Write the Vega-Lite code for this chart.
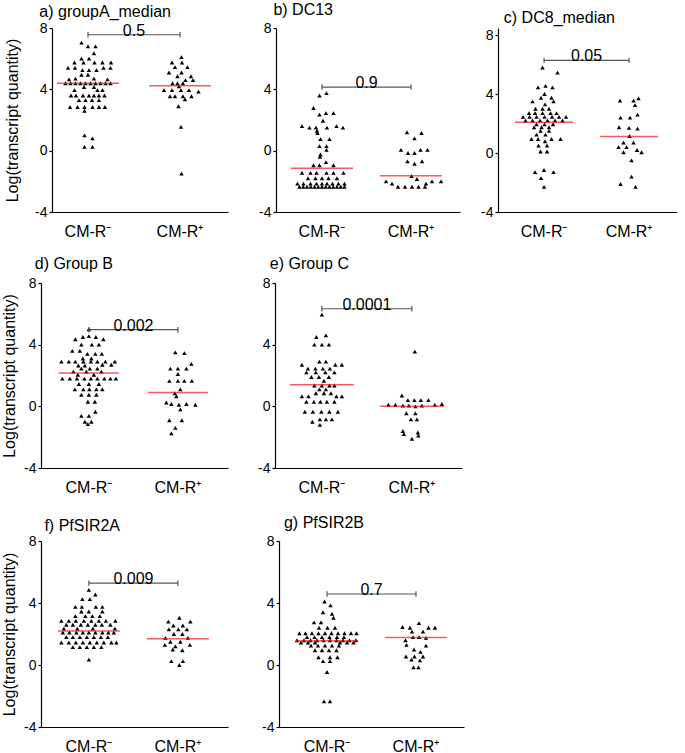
{
"$schema": "https://vega.github.io/schema/vega-lite/v6.json",
"padding": {"left": 0, "top": 2, "right": 0, "bottom": 0},
"config": {
 "font": "Liberation Sans",
 "view": {"stroke": null},
 "title": {"fontSize": 16, "fontWeight": "normal", "font": "Liberation Sans", "color": "black"},
 "axis": {"domainColor": "black", "domainWidth": 1.2, "tickColor": "black", "grid": false, "labelColor": "black", "titleColor": "black", "labelFont": "Liberation Sans", "titleFont": "Liberation Sans"},
 "axisX": {"ticks": false, "labelFontSize": 16, "labelPadding": 11, "labelAngle": 0},
 "axisY": {"tickSize": 3, "tickWidth": 1.2, "labelPadding": 2, "labelFontSize": 14, "titleFontSize": 16, "titleFontWeight": "normal", "labelExpr": "datum.value + ''"}
},
"datasets": {
 "pts": [
{"p":"a","g":"CM-R⁻","v":7.05,"s":-1.3},{"p":"a","g":"CM-R⁻","v":6.8,"s":0},{"p":"a","g":"CM-R⁻","v":6.8,"s":1.5},{"p":"a","g":"CM-R⁻","v":6.35,"s":1.2},{"p":"a","g":"CM-R⁻","v":6.0,"s":-1.3},{"p":"a","g":"CM-R⁻","v":6.0,"s":0.2},{"p":"a","g":"CM-R⁻","v":5.75,"s":-2.7},{"p":"a","g":"CM-R⁻","v":5.75,"s":-0.9},{"p":"a","g":"CM-R⁻","v":5.75,"s":1.3},{"p":"a","g":"CM-R⁻","v":5.75,"s":2.9},{"p":"a","g":"CM-R⁻","v":5.75,"s":4.6},{"p":"a","g":"CM-R⁻","v":5.4,"s":-4},{"p":"a","g":"CM-R⁻","v":5.4,"s":-2.6},{"p":"a","g":"CM-R⁻","v":5.4,"s":3.1},{"p":"a","g":"CM-R⁻","v":5.4,"s":4.5},{"p":"a","g":"CM-R⁻","v":5.25,"s":-1.1},{"p":"a","g":"CM-R⁻","v":5.25,"s":0.2},{"p":"a","g":"CM-R⁻","v":5.25,"s":1.7},{"p":"a","g":"CM-R⁻","v":4.95,"s":-1.3},{"p":"a","g":"CM-R⁻","v":4.95,"s":0},{"p":"a","g":"CM-R⁻","v":4.7,"s":-2.5},{"p":"a","g":"CM-R⁻","v":4.7,"s":1.2},{"p":"a","g":"CM-R⁻","v":4.65,"s":-3.8},{"p":"a","g":"CM-R⁻","v":4.65,"s":3.9},{"p":"a","g":"CM-R⁻","v":4.4,"s":-4.5},{"p":"a","g":"CM-R⁻","v":4.4,"s":-3.5},{"p":"a","g":"CM-R⁻","v":4.4,"s":-2.5},{"p":"a","g":"CM-R⁻","v":4.4,"s":-1.5},{"p":"a","g":"CM-R⁻","v":4.4,"s":-0.5},{"p":"a","g":"CM-R⁻","v":4.4,"s":0.5},{"p":"a","g":"CM-R⁻","v":4.4,"s":1.5},{"p":"a","g":"CM-R⁻","v":4.4,"s":2.5},{"p":"a","g":"CM-R⁻","v":4.4,"s":3.5},{"p":"a","g":"CM-R⁻","v":4.4,"s":4.5},{"p":"a","g":"CM-R⁻","v":4.15,"s":-0.8},{"p":"a","g":"CM-R⁻","v":4.15,"s":1.2},{"p":"a","g":"CM-R⁻","v":3.95,"s":-2.7},{"p":"a","g":"CM-R⁻","v":3.95,"s":1.9},{"p":"a","g":"CM-R⁻","v":3.95,"s":2.9},{"p":"a","g":"CM-R⁻","v":3.6,"s":-3.4},{"p":"a","g":"CM-R⁻","v":3.6,"s":-2.4},{"p":"a","g":"CM-R⁻","v":3.6,"s":-1.0},{"p":"a","g":"CM-R⁻","v":3.6,"s":0.2},{"p":"a","g":"CM-R⁻","v":3.6,"s":1.2},{"p":"a","g":"CM-R⁻","v":3.6,"s":2.2},{"p":"a","g":"CM-R⁻","v":3.6,"s":3.3},{"p":"a","g":"CM-R⁻","v":3.3,"s":-1.8},{"p":"a","g":"CM-R⁻","v":3.3,"s":-0.5},{"p":"a","g":"CM-R⁻","v":3.3,"s":0.8},{"p":"a","g":"CM-R⁻","v":3.3,"s":2.2},{"p":"a","g":"CM-R⁻","v":2.85,"s":-3.6},{"p":"a","g":"CM-R⁻","v":2.85,"s":-2.1},{"p":"a","g":"CM-R⁻","v":2.85,"s":-0.7},{"p":"a","g":"CM-R⁻","v":2.85,"s":0.9},{"p":"a","g":"CM-R⁻","v":2.85,"s":2.2},{"p":"a","g":"CM-R⁻","v":2.85,"s":3.4},{"p":"a","g":"CM-R⁻","v":2.6,"s":-0.7},{"p":"a","g":"CM-R⁻","v":1.0,"s":-0.7},{"p":"a","g":"CM-R⁻","v":0.8,"s":0.9},{"p":"a","g":"CM-R⁻","v":0.25,"s":-0.7},{"p":"a","g":"CM-R⁻","v":0.25,"s":0.9},
{"p":"a","g":"CM-R⁺","v":6.1,"s":0.3},{"p":"a","g":"CM-R⁺","v":5.75,"s":-1.6},{"p":"a","g":"CM-R⁺","v":5.75,"s":0.4},{"p":"a","g":"CM-R⁺","v":5.45,"s":-1.0},{"p":"a","g":"CM-R⁺","v":5.45,"s":1.5},{"p":"a","g":"CM-R⁺","v":5.1,"s":-2.2},{"p":"a","g":"CM-R⁺","v":5.1,"s":0.3},{"p":"a","g":"CM-R⁺","v":4.85,"s":-0.5},{"p":"a","g":"CM-R⁺","v":4.85,"s":2.2},{"p":"a","g":"CM-R⁺","v":4.6,"s":1.1},{"p":"a","g":"CM-R⁺","v":4.6,"s":2.6},{"p":"a","g":"CM-R⁺","v":4.4,"s":-1.5},{"p":"a","g":"CM-R⁺","v":4.4,"s":-0.5},{"p":"a","g":"CM-R⁺","v":4.4,"s":0.6},{"p":"a","g":"CM-R⁺","v":4.2,"s":-0.2},{"p":"a","g":"CM-R⁺","v":3.95,"s":-3.2},{"p":"a","g":"CM-R⁺","v":3.95,"s":-1.6},{"p":"a","g":"CM-R⁺","v":3.95,"s":0.2},{"p":"a","g":"CM-R⁺","v":3.95,"s":1.8},{"p":"a","g":"CM-R⁺","v":3.85,"s":3.7},{"p":"a","g":"CM-R⁺","v":3.55,"s":-2.0},{"p":"a","g":"CM-R⁺","v":3.55,"s":-1.0},{"p":"a","g":"CM-R⁺","v":3.55,"s":0.6},{"p":"a","g":"CM-R⁺","v":3.55,"s":2.3},{"p":"a","g":"CM-R⁺","v":3.35,"s":1.0},{"p":"a","g":"CM-R⁺","v":2.9,"s":-0.3},{"p":"a","g":"CM-R⁺","v":1.55,"s":0.2},{"p":"a","g":"CM-R⁺","v":-1.5,"s":0.3},
{"p":"b","g":"CM-R⁻","v":3.75,"s":0.9},{"p":"b","g":"CM-R⁻","v":3.6,"s":-0.5},{"p":"b","g":"CM-R⁻","v":2.78,"s":-1.7},{"p":"b","g":"CM-R⁻","v":2.45,"s":0.8},{"p":"b","g":"CM-R⁻","v":2.45,"s":2.3},{"p":"b","g":"CM-R⁻","v":2.35,"s":-0.5},{"p":"b","g":"CM-R⁻","v":1.95,"s":0.2},{"p":"b","g":"CM-R⁻","v":1.6,"s":-4},{"p":"b","g":"CM-R⁻","v":1.6,"s":2.9},{"p":"b","g":"CM-R⁻","v":1.5,"s":-2.5},{"p":"b","g":"CM-R⁻","v":1.5,"s":-1.2},{"p":"b","g":"CM-R⁻","v":1.5,"s":1.0},{"p":"b","g":"CM-R⁻","v":1.5,"s":4.2},{"p":"b","g":"CM-R⁻","v":1.3,"s":-1.0},{"p":"b","g":"CM-R⁻","v":1.15,"s":-0.9},{"p":"b","g":"CM-R⁻","v":0.75,"s":-0.3},{"p":"b","g":"CM-R⁻","v":0.75,"s":1.5},{"p":"b","g":"CM-R⁻","v":0.3,"s":-0.5},{"p":"b","g":"CM-R⁻","v":0.3,"s":0.9},{"p":"b","g":"CM-R⁻","v":0.05,"s":0.9},{"p":"b","g":"CM-R⁻","v":-0.25,"s":-0.3},{"p":"b","g":"CM-R⁻","v":-0.4,"s":-0.4},{"p":"b","g":"CM-R⁻","v":-0.75,"s":0.8},{"p":"b","g":"CM-R⁻","v":-0.95,"s":-1.7},{"p":"b","g":"CM-R⁻","v":-0.95,"s":-0.5},{"p":"b","g":"CM-R⁻","v":-0.95,"s":2.3},{"p":"b","g":"CM-R⁻","v":-1.45,"s":-4.0},{"p":"b","g":"CM-R⁻","v":-1.45,"s":-2.3},{"p":"b","g":"CM-R⁻","v":-1.45,"s":-1.1},{"p":"b","g":"CM-R⁻","v":-1.45,"s":0.9},{"p":"b","g":"CM-R⁻","v":-1.45,"s":2.3},{"p":"b","g":"CM-R⁻","v":-1.45,"s":4.3},{"p":"b","g":"CM-R⁻","v":-1.8,"s":-2.8},{"p":"b","g":"CM-R⁻","v":-1.8,"s":-1.3},{"p":"b","g":"CM-R⁻","v":-1.8,"s":0},{"p":"b","g":"CM-R⁻","v":-1.8,"s":1.3},{"p":"b","g":"CM-R⁻","v":-1.8,"s":3.0},{"p":"b","g":"CM-R⁻","v":-2.15,"s":-4.9},{"p":"b","g":"CM-R⁻","v":-2.15,"s":-3.7},{"p":"b","g":"CM-R⁻","v":-2.15,"s":-2.3},{"p":"b","g":"CM-R⁻","v":-2.15,"s":-1.1},{"p":"b","g":"CM-R⁻","v":-2.15,"s":0},{"p":"b","g":"CM-R⁻","v":-2.15,"s":1.0},{"p":"b","g":"CM-R⁻","v":-2.15,"s":2.1},{"p":"b","g":"CM-R⁻","v":-2.15,"s":3.3},{"p":"b","g":"CM-R⁻","v":-2.15,"s":4.5},{"p":"b","g":"CM-R⁻","v":-2.35,"s":-4.5},{"p":"b","g":"CM-R⁻","v":-2.35,"s":-3.75},{"p":"b","g":"CM-R⁻","v":-2.35,"s":-3},{"p":"b","g":"CM-R⁻","v":-2.35,"s":-2.25},{"p":"b","g":"CM-R⁻","v":-2.35,"s":-1.5},{"p":"b","g":"CM-R⁻","v":-2.35,"s":-0.75},{"p":"b","g":"CM-R⁻","v":-2.35,"s":0},{"p":"b","g":"CM-R⁻","v":-2.35,"s":0.75},{"p":"b","g":"CM-R⁻","v":-2.35,"s":1.5},{"p":"b","g":"CM-R⁻","v":-2.35,"s":2.25},{"p":"b","g":"CM-R⁻","v":-2.35,"s":3},{"p":"b","g":"CM-R⁻","v":-2.35,"s":3.75},{"p":"b","g":"CM-R⁻","v":-2.35,"s":4.5},
{"p":"b","g":"CM-R⁺","v":1.2,"s":-0.8},{"p":"b","g":"CM-R⁺","v":1.15,"s":2.1},{"p":"b","g":"CM-R⁺","v":0.8,"s":0.7},{"p":"b","g":"CM-R⁺","v":0.05,"s":-2.0},{"p":"b","g":"CM-R⁺","v":0.05,"s":1.9},{"p":"b","g":"CM-R⁺","v":0.05,"s":3.3},{"p":"b","g":"CM-R⁺","v":-0.15,"s":-0.6},{"p":"b","g":"CM-R⁺","v":-0.15,"s":0.7},{"p":"b","g":"CM-R⁺","v":-0.7,"s":-0.7},{"p":"b","g":"CM-R⁺","v":-0.7,"s":2.2},{"p":"b","g":"CM-R⁺","v":-0.85,"s":0.7},{"p":"b","g":"CM-R⁺","v":-1.65,"s":0.1},{"p":"b","g":"CM-R⁺","v":-1.85,"s":1.2},{"p":"b","g":"CM-R⁺","v":-2.0,"s":-5.0},{"p":"b","g":"CM-R⁺","v":-2.0,"s":4.2},{"p":"b","g":"CM-R⁺","v":-2.0,"s":6.0},{"p":"b","g":"CM-R⁺","v":-2.15,"s":-3.8},{"p":"b","g":"CM-R⁺","v":-2.15,"s":3.0},{"p":"b","g":"CM-R⁺","v":-2.35,"s":-2.6},{"p":"b","g":"CM-R⁺","v":-2.35,"s":-1.2},{"p":"b","g":"CM-R⁺","v":-2.35,"s":0.2},{"p":"b","g":"CM-R⁺","v":-2.35,"s":1.5},{"p":"b","g":"CM-R⁺","v":-2.35,"s":2.8},
{"p":"c","g":"CM-R⁻","v":5.8,"s":-0.3},{"p":"c","g":"CM-R⁻","v":5.45,"s":2.7},{"p":"c","g":"CM-R⁻","v":4.45,"s":-1.2},{"p":"c","g":"CM-R⁻","v":4.55,"s":0.3},{"p":"c","g":"CM-R⁻","v":4.45,"s":1.7},{"p":"c","g":"CM-R⁻","v":4.0,"s":0.1},{"p":"c","g":"CM-R⁻","v":3.75,"s":-0.6},{"p":"c","g":"CM-R⁻","v":3.75,"s":1.5},{"p":"c","g":"CM-R⁻","v":3.5,"s":-2.3},{"p":"c","g":"CM-R⁻","v":3.5,"s":1.9},{"p":"c","g":"CM-R⁻","v":3.3,"s":0.2},{"p":"c","g":"CM-R⁻","v":3.0,"s":-1.7},{"p":"c","g":"CM-R⁻","v":3.0,"s":-0.3},{"p":"c","g":"CM-R⁻","v":3.0,"s":1.0},{"p":"c","g":"CM-R⁻","v":2.7,"s":-3.0},{"p":"c","g":"CM-R⁻","v":2.7,"s":-1.8},{"p":"c","g":"CM-R⁻","v":2.7,"s":-0.3},{"p":"c","g":"CM-R⁻","v":2.7,"s":1.3},{"p":"c","g":"CM-R⁻","v":2.7,"s":2.5},{"p":"c","g":"CM-R⁻","v":2.45,"s":-4.2},{"p":"c","g":"CM-R⁻","v":2.45,"s":-2.9},{"p":"c","g":"CM-R⁻","v":2.45,"s":-1.5},{"p":"c","g":"CM-R⁻","v":2.45,"s":0.1},{"p":"c","g":"CM-R⁻","v":2.45,"s":1.6},{"p":"c","g":"CM-R⁻","v":2.45,"s":3.0},{"p":"c","g":"CM-R⁻","v":2.45,"s":4.4},{"p":"c","g":"CM-R⁻","v":2.2,"s":-3.7},{"p":"c","g":"CM-R⁻","v":2.2,"s":-2.3},{"p":"c","g":"CM-R⁻","v":2.2,"s":-0.8},{"p":"c","g":"CM-R⁻","v":2.2,"s":0.7},{"p":"c","g":"CM-R⁻","v":2.2,"s":2.2},{"p":"c","g":"CM-R⁻","v":2.2,"s":3.7},{"p":"c","g":"CM-R⁻","v":1.95,"s":-1.5},{"p":"c","g":"CM-R⁻","v":1.95,"s":0.1},{"p":"c","g":"CM-R⁻","v":1.95,"s":1.8},{"p":"c","g":"CM-R⁻","v":1.75,"s":-2.0},{"p":"c","g":"CM-R⁻","v":1.75,"s":-0.5},{"p":"c","g":"CM-R⁻","v":1.75,"s":1.0},{"p":"c","g":"CM-R⁻","v":1.5,"s":-0.7},{"p":"c","g":"CM-R⁻","v":1.5,"s":1.0},{"p":"c","g":"CM-R⁻","v":1.25,"s":-1.5},{"p":"c","g":"CM-R⁻","v":1.25,"s":0.3},{"p":"c","g":"CM-R⁻","v":0.95,"s":-2.5},{"p":"c","g":"CM-R⁻","v":0.95,"s":-1.2},{"p":"c","g":"CM-R⁻","v":0.95,"s":1.5},{"p":"c","g":"CM-R⁻","v":0.95,"s":3.3},{"p":"c","g":"CM-R⁻","v":0.8,"s":0.2},{"p":"c","g":"CM-R⁻","v":0.5,"s":-1.1},{"p":"c","g":"CM-R⁻","v":0.5,"s":0.6},{"p":"c","g":"CM-R⁻","v":0.1,"s":-0.7},{"p":"c","g":"CM-R⁻","v":0.1,"s":0.6},{"p":"c","g":"CM-R⁻","v":-1.15,"s":0},{"p":"c","g":"CM-R⁻","v":-1.3,"s":-1.8},{"p":"c","g":"CM-R⁻","v":-1.3,"s":1.9},{"p":"c","g":"CM-R⁻","v":-1.7,"s":-0.6},{"p":"c","g":"CM-R⁻","v":-2.3,"s":0},
{"p":"c","g":"CM-R⁺","v":3.7,"s":1.9},{"p":"c","g":"CM-R⁺","v":3.55,"s":-1.8},{"p":"c","g":"CM-R⁺","v":3.55,"s":0.9},{"p":"c","g":"CM-R⁺","v":3.25,"s":1.2},{"p":"c","g":"CM-R⁺","v":2.6,"s":1.7},{"p":"c","g":"CM-R⁺","v":2.4,"s":-1.7},{"p":"c","g":"CM-R⁺","v":2.4,"s":0.2},{"p":"c","g":"CM-R⁺","v":1.75,"s":-2.0},{"p":"c","g":"CM-R⁺","v":1.7,"s":0.0},{"p":"c","g":"CM-R⁺","v":1.65,"s":1.7},{"p":"c","g":"CM-R⁺","v":1.15,"s":0.1},{"p":"c","g":"CM-R⁺","v":0.7,"s":-1.1},{"p":"c","g":"CM-R⁺","v":0.7,"s":0.9},{"p":"c","g":"CM-R⁺","v":0.4,"s":-2.1},{"p":"c","g":"CM-R⁺","v":0.4,"s":-0.5},{"p":"c","g":"CM-R⁺","v":0.2,"s":1.6},{"p":"c","g":"CM-R⁺","v":0.05,"s":-1.1},{"p":"c","g":"CM-R⁺","v":0.05,"s":2.5},{"p":"c","g":"CM-R⁺","v":-0.5,"s":0.5},{"p":"c","g":"CM-R⁺","v":-1.6,"s":0.5},{"p":"c","g":"CM-R⁺","v":-2.1,"s":-1.7},{"p":"c","g":"CM-R⁺","v":-2.3,"s":1.3},
{"p":"d","g":"CM-R⁻","v":5.0,"s":0},{"p":"d","g":"CM-R⁻","v":4.5,"s":-1.2},{"p":"d","g":"CM-R⁻","v":4.55,"s":0},{"p":"d","g":"CM-R⁻","v":4.5,"s":1.4},{"p":"d","g":"CM-R⁻","v":4.35,"s":-2.7},{"p":"d","g":"CM-R⁻","v":4.35,"s":2.9},{"p":"d","g":"CM-R⁻","v":4.0,"s":-1.5},{"p":"d","g":"CM-R⁻","v":4.0,"s":0.6},{"p":"d","g":"CM-R⁻","v":4.0,"s":2.0},{"p":"d","g":"CM-R⁻","v":3.6,"s":-3.3},{"p":"d","g":"CM-R⁻","v":3.6,"s":-1.8},{"p":"d","g":"CM-R⁻","v":3.4,"s":-0.3},{"p":"d","g":"CM-R⁻","v":3.4,"s":1.3},{"p":"d","g":"CM-R⁻","v":3.4,"s":2.6},{"p":"d","g":"CM-R⁻","v":3.1,"s":-1.2},{"p":"d","g":"CM-R⁻","v":3.1,"s":0.5},{"p":"d","g":"CM-R⁻","v":2.9,"s":-5.5},{"p":"d","g":"CM-R⁻","v":2.9,"s":-4.0},{"p":"d","g":"CM-R⁻","v":2.9,"s":-2.7},{"p":"d","g":"CM-R⁻","v":2.9,"s":-1.1},{"p":"d","g":"CM-R⁻","v":2.9,"s":0.4},{"p":"d","g":"CM-R⁻","v":2.9,"s":1.7},{"p":"d","g":"CM-R⁻","v":2.9,"s":3.3},{"p":"d","g":"CM-R⁻","v":2.9,"s":5.2},{"p":"d","g":"CM-R⁻","v":2.65,"s":-2.1},{"p":"d","g":"CM-R⁻","v":2.65,"s":-0.8},{"p":"d","g":"CM-R⁻","v":2.7,"s":2.7},{"p":"d","g":"CM-R⁻","v":2.7,"s":4.5},{"p":"d","g":"CM-R⁻","v":2.45,"s":-1.5},{"p":"d","g":"CM-R⁻","v":2.45,"s":0.2},{"p":"d","g":"CM-R⁻","v":2.45,"s":1.7},{"p":"d","g":"CM-R⁻","v":2.25,"s":-3.1},{"p":"d","g":"CM-R⁻","v":2.25,"s":-0.5},{"p":"d","g":"CM-R⁻","v":2.25,"s":2.5},{"p":"d","g":"CM-R⁻","v":2.05,"s":-2.2},{"p":"d","g":"CM-R⁻","v":2.05,"s":1.0},{"p":"d","g":"CM-R⁻","v":1.8,"s":-5.3},{"p":"d","g":"CM-R⁻","v":1.8,"s":-3.8},{"p":"d","g":"CM-R⁻","v":1.8,"s":-2.4},{"p":"d","g":"CM-R⁻","v":1.8,"s":-0.9},{"p":"d","g":"CM-R⁻","v":1.8,"s":0.4},{"p":"d","g":"CM-R⁻","v":1.8,"s":1.7},{"p":"d","g":"CM-R⁻","v":1.8,"s":3.1},{"p":"d","g":"CM-R⁻","v":1.8,"s":4.3},{"p":"d","g":"CM-R⁻","v":1.8,"s":5.4},{"p":"d","g":"CM-R⁻","v":1.45,"s":-2.0},{"p":"d","g":"CM-R⁻","v":1.45,"s":0.0},{"p":"d","g":"CM-R⁻","v":1.45,"s":2.0},{"p":"d","g":"CM-R⁻","v":1.1,"s":-2.8},{"p":"d","g":"CM-R⁻","v":1.1,"s":-1.1},{"p":"d","g":"CM-R⁻","v":1.1,"s":0.1},{"p":"d","g":"CM-R⁻","v":1.1,"s":1.5},{"p":"d","g":"CM-R⁻","v":1.1,"s":2.7},{"p":"d","g":"CM-R⁻","v":0.75,"s":-1.5},{"p":"d","g":"CM-R⁻","v":0.75,"s":0.0},{"p":"d","g":"CM-R⁻","v":0.75,"s":1.5},{"p":"d","g":"CM-R⁻","v":0.3,"s":-0.2},{"p":"d","g":"CM-R⁻","v":0.3,"s":1.2},{"p":"d","g":"CM-R⁻","v":-0.35,"s":1.3},{"p":"d","g":"CM-R⁻","v":-0.62,"s":-1.5},{"p":"d","g":"CM-R⁻","v":-0.62,"s":0},{"p":"d","g":"CM-R⁻","v":-1.0,"s":-0.8},{"p":"d","g":"CM-R⁻","v":-1.0,"s":0.5},{"p":"d","g":"CM-R⁻","v":-1.15,"s":-0.2},
{"p":"d","g":"CM-R⁺","v":3.5,"s":-0.5},{"p":"d","g":"CM-R⁺","v":3.45,"s":1.3},{"p":"d","g":"CM-R⁺","v":2.75,"s":2.7},{"p":"d","g":"CM-R⁺","v":2.45,"s":-1.5},{"p":"d","g":"CM-R⁺","v":2.45,"s":0},{"p":"d","g":"CM-R⁺","v":2.45,"s":1.7},{"p":"d","g":"CM-R⁺","v":2.1,"s":0},{"p":"d","g":"CM-R⁺","v":1.65,"s":-1.7},{"p":"d","g":"CM-R⁺","v":1.65,"s":0},{"p":"d","g":"CM-R⁺","v":1.65,"s":1.3},{"p":"d","g":"CM-R⁺","v":1.65,"s":2.8},{"p":"d","g":"CM-R⁺","v":1.1,"s":0.5},{"p":"d","g":"CM-R⁺","v":0.85,"s":-0.6},{"p":"d","g":"CM-R⁺","v":0.65,"s":-0.3},{"p":"d","g":"CM-R⁺","v":0.25,"s":-2.3},{"p":"d","g":"CM-R⁺","v":0.15,"s":-1.3},{"p":"d","g":"CM-R⁺","v":0.1,"s":0.2},{"p":"d","g":"CM-R⁺","v":0.15,"s":1.7},{"p":"d","g":"CM-R⁺","v":0.1,"s":3.5},{"p":"d","g":"CM-R⁺","v":-0.2,"s":0.5},{"p":"d","g":"CM-R⁺","v":-0.9,"s":-1.7},{"p":"d","g":"CM-R⁺","v":-0.9,"s":0.8},{"p":"d","g":"CM-R⁺","v":-1.4,"s":-0.5},{"p":"d","g":"CM-R⁺","v":-1.75,"s":-1.3},
{"p":"e","g":"CM-R⁻","v":5.95,"s":0},{"p":"e","g":"CM-R⁻","v":4.6,"s":0.8},{"p":"e","g":"CM-R⁻","v":4.5,"s":-1.1},{"p":"e","g":"CM-R⁻","v":4.0,"s":-1.5},{"p":"e","g":"CM-R⁻","v":4.0,"s":0},{"p":"e","g":"CM-R⁻","v":4.0,"s":1.4},{"p":"e","g":"CM-R⁻","v":2.9,"s":-0.5},{"p":"e","g":"CM-R⁻","v":2.9,"s":0.8},{"p":"e","g":"CM-R⁻","v":2.7,"s":-4.0},{"p":"e","g":"CM-R⁻","v":2.7,"s":2.7},{"p":"e","g":"CM-R⁻","v":2.7,"s":4.0},{"p":"e","g":"CM-R⁻","v":2.45,"s":-2.8},{"p":"e","g":"CM-R⁻","v":2.45,"s":-1.3},{"p":"e","g":"CM-R⁻","v":2.45,"s":0.2},{"p":"e","g":"CM-R⁻","v":2.45,"s":1.6},{"p":"e","g":"CM-R⁻","v":2.2,"s":-3.1},{"p":"e","g":"CM-R⁻","v":2.2,"s":-1.2},{"p":"e","g":"CM-R⁻","v":2.2,"s":0.7},{"p":"e","g":"CM-R⁻","v":2.2,"s":2.5},{"p":"e","g":"CM-R⁻","v":1.9,"s":-2.1},{"p":"e","g":"CM-R⁻","v":1.9,"s":-0.6},{"p":"e","g":"CM-R⁻","v":1.9,"s":1.4},{"p":"e","g":"CM-R⁻","v":1.65,"s":0.4},{"p":"e","g":"CM-R⁻","v":1.35,"s":-1.5},{"p":"e","g":"CM-R⁻","v":1.35,"s":0},{"p":"e","g":"CM-R⁻","v":1.35,"s":1.5},{"p":"e","g":"CM-R⁻","v":1.35,"s":2.5},{"p":"e","g":"CM-R⁻","v":1.1,"s":-0.5},{"p":"e","g":"CM-R⁻","v":1.1,"s":0.8},{"p":"e","g":"CM-R⁻","v":0.85,"s":-1.2},{"p":"e","g":"CM-R⁻","v":0.85,"s":0.4},{"p":"e","g":"CM-R⁻","v":0.85,"s":1.8},{"p":"e","g":"CM-R⁻","v":0.65,"s":-4.0},{"p":"e","g":"CM-R⁻","v":0.65,"s":-2.7},{"p":"e","g":"CM-R⁻","v":0.65,"s":2.9},{"p":"e","g":"CM-R⁻","v":0.65,"s":4.0},{"p":"e","g":"CM-R⁻","v":0.3,"s":-3.1},{"p":"e","g":"CM-R⁻","v":0.3,"s":-1.6},{"p":"e","g":"CM-R⁻","v":0.3,"s":-0.3},{"p":"e","g":"CM-R⁻","v":0.3,"s":1.0},{"p":"e","g":"CM-R⁻","v":0.3,"s":2.5},{"p":"e","g":"CM-R⁻","v":-0.35,"s":-3.4},{"p":"e","g":"CM-R⁻","v":-0.35,"s":-1.8},{"p":"e","g":"CM-R⁻","v":-0.35,"s":-0.1},{"p":"e","g":"CM-R⁻","v":-0.35,"s":1.5},{"p":"e","g":"CM-R⁻","v":-0.35,"s":3.2},{"p":"e","g":"CM-R⁻","v":-0.85,"s":-0.4},{"p":"e","g":"CM-R⁻","v":-0.85,"s":0.8},{"p":"e","g":"CM-R⁻","v":-0.85,"s":2.0},{"p":"e","g":"CM-R⁻","v":-1.0,"s":-1.9},{"p":"e","g":"CM-R⁻","v":-1.2,"s":-0.4},
{"p":"e","g":"CM-R⁺","v":3.55,"s":0.6},{"p":"e","g":"CM-R⁺","v":0.7,"s":-2.0},{"p":"e","g":"CM-R⁺","v":0.4,"s":-0.8},{"p":"e","g":"CM-R⁺","v":0.4,"s":0.5},{"p":"e","g":"CM-R⁺","v":0.4,"s":1.8},{"p":"e","g":"CM-R⁺","v":0.4,"s":3.3},{"p":"e","g":"CM-R⁺","v":0.1,"s":-4.7},{"p":"e","g":"CM-R⁺","v":0.1,"s":-3.3},{"p":"e","g":"CM-R⁺","v":0.05,"s":-1.8},{"p":"e","g":"CM-R⁺","v":0.05,"s":-0.6},{"p":"e","g":"CM-R⁺","v":0.0,"s":0.7},{"p":"e","g":"CM-R⁺","v":0.05,"s":2.0},{"p":"e","g":"CM-R⁺","v":0.1,"s":4.6},{"p":"e","g":"CM-R⁺","v":0.15,"s":6.0},{"p":"e","g":"CM-R⁺","v":-0.45,"s":-1.1},{"p":"e","g":"CM-R⁺","v":-0.45,"s":0.7},{"p":"e","g":"CM-R⁺","v":-0.85,"s":-0.2},{"p":"e","g":"CM-R⁺","v":-0.85,"s":1.0},{"p":"e","g":"CM-R⁺","v":-1.6,"s":-1.8},{"p":"e","g":"CM-R⁺","v":-1.8,"s":-1.6},{"p":"e","g":"CM-R⁺","v":-1.7,"s":1.2},{"p":"e","g":"CM-R⁺","v":-1.9,"s":1.3},{"p":"e","g":"CM-R⁺","v":-2.1,"s":0},
{"p":"f","g":"CM-R⁻","v":4.85,"s":0},{"p":"f","g":"CM-R⁻","v":4.55,"s":1.3},{"p":"f","g":"CM-R⁻","v":4.25,"s":-1.3},{"p":"f","g":"CM-R⁻","v":4.25,"s":0.2},{"p":"f","g":"CM-R⁻","v":3.75,"s":-2.7},{"p":"f","g":"CM-R⁻","v":3.75,"s":-1.4},{"p":"f","g":"CM-R⁻","v":3.75,"s":1.4},{"p":"f","g":"CM-R⁻","v":3.75,"s":2.7},{"p":"f","g":"CM-R⁻","v":3.45,"s":-1.5},{"p":"f","g":"CM-R⁻","v":3.45,"s":0},{"p":"f","g":"CM-R⁻","v":3.45,"s":2.7},{"p":"f","g":"CM-R⁻","v":3.15,"s":-2.7},{"p":"f","g":"CM-R⁻","v":3.15,"s":-0.7},{"p":"f","g":"CM-R⁻","v":3.15,"s":0.7},{"p":"f","g":"CM-R⁻","v":3.15,"s":2.2},{"p":"f","g":"CM-R⁻","v":2.85,"s":-5.5},{"p":"f","g":"CM-R⁻","v":2.85,"s":-4.0},{"p":"f","g":"CM-R⁻","v":2.85,"s":-2.6},{"p":"f","g":"CM-R⁻","v":2.85,"s":-1.0},{"p":"f","g":"CM-R⁻","v":2.85,"s":0.5},{"p":"f","g":"CM-R⁻","v":2.85,"s":2.0},{"p":"f","g":"CM-R⁻","v":2.85,"s":3.4},{"p":"f","g":"CM-R⁻","v":2.85,"s":5.3},{"p":"f","g":"CM-R⁻","v":2.6,"s":-4.5},{"p":"f","g":"CM-R⁻","v":2.6,"s":-3.2},{"p":"f","g":"CM-R⁻","v":2.6,"s":-1.6},{"p":"f","g":"CM-R⁻","v":2.6,"s":-0.2},{"p":"f","g":"CM-R⁻","v":2.6,"s":1.3},{"p":"f","g":"CM-R⁻","v":2.6,"s":2.6},{"p":"f","g":"CM-R⁻","v":2.6,"s":4.3},{"p":"f","g":"CM-R⁻","v":2.35,"s":-5.0},{"p":"f","g":"CM-R⁻","v":2.35,"s":-2.3},{"p":"f","g":"CM-R⁻","v":2.35,"s":0.8},{"p":"f","g":"CM-R⁻","v":2.35,"s":5.2},{"p":"f","g":"CM-R⁻","v":2.1,"s":-5.2},{"p":"f","g":"CM-R⁻","v":2.1,"s":-3.9},{"p":"f","g":"CM-R⁻","v":2.1,"s":-2.5},{"p":"f","g":"CM-R⁻","v":2.1,"s":-1.2},{"p":"f","g":"CM-R⁻","v":2.1,"s":0.0},{"p":"f","g":"CM-R⁻","v":2.1,"s":1.3},{"p":"f","g":"CM-R⁻","v":2.1,"s":2.7},{"p":"f","g":"CM-R⁻","v":2.1,"s":3.9},{"p":"f","g":"CM-R⁻","v":2.1,"s":5.0},{"p":"f","g":"CM-R⁻","v":1.8,"s":-4.5},{"p":"f","g":"CM-R⁻","v":1.8,"s":-3.2},{"p":"f","g":"CM-R⁻","v":1.8,"s":-1.8},{"p":"f","g":"CM-R⁻","v":1.8,"s":-0.4},{"p":"f","g":"CM-R⁻","v":1.8,"s":1.0},{"p":"f","g":"CM-R⁻","v":1.8,"s":2.4},{"p":"f","g":"CM-R⁻","v":1.8,"s":3.8},{"p":"f","g":"CM-R⁻","v":1.45,"s":-5.5},{"p":"f","g":"CM-R⁻","v":1.45,"s":-4.0},{"p":"f","g":"CM-R⁻","v":1.45,"s":-2.6},{"p":"f","g":"CM-R⁻","v":1.45,"s":-1.2},{"p":"f","g":"CM-R⁻","v":1.45,"s":0.2},{"p":"f","g":"CM-R⁻","v":1.45,"s":1.6},{"p":"f","g":"CM-R⁻","v":1.45,"s":3.0},{"p":"f","g":"CM-R⁻","v":1.45,"s":4.5},{"p":"f","g":"CM-R⁻","v":1.45,"s":5.5},{"p":"f","g":"CM-R⁻","v":1.15,"s":-3.2},{"p":"f","g":"CM-R⁻","v":1.15,"s":-1.8},{"p":"f","g":"CM-R⁻","v":1.15,"s":-0.4},{"p":"f","g":"CM-R⁻","v":1.15,"s":1.0},{"p":"f","g":"CM-R⁻","v":1.15,"s":2.5},{"p":"f","g":"CM-R⁻","v":0.35,"s":0},
{"p":"f","g":"CM-R⁺","v":3.05,"s":0.3},{"p":"f","g":"CM-R⁺","v":2.8,"s":-1.9},{"p":"f","g":"CM-R⁺","v":2.8,"s":2.5},{"p":"f","g":"CM-R⁺","v":2.55,"s":-0.9},{"p":"f","g":"CM-R⁺","v":2.55,"s":1.0},{"p":"f","g":"CM-R⁺","v":2.3,"s":-1.8},{"p":"f","g":"CM-R⁺","v":2.3,"s":0.1},{"p":"f","g":"CM-R⁺","v":2.3,"s":1.8},{"p":"f","g":"CM-R⁺","v":2.0,"s":-0.8},{"p":"f","g":"CM-R⁺","v":2.0,"s":0.9},{"p":"f","g":"CM-R⁺","v":1.75,"s":-2.5},{"p":"f","g":"CM-R⁺","v":1.75,"s":2.0},{"p":"f","g":"CM-R⁺","v":1.5,"s":-1.5},{"p":"f","g":"CM-R⁺","v":1.5,"s":0.5},{"p":"f","g":"CM-R⁺","v":1.3,"s":-2.6},{"p":"f","g":"CM-R⁺","v":1.3,"s":2.4},{"p":"f","g":"CM-R⁺","v":1.2,"s":-0.5},{"p":"f","g":"CM-R⁺","v":1.0,"s":-1.0},{"p":"f","g":"CM-R⁺","v":0.95,"s":0.9},{"p":"f","g":"CM-R⁺","v":0.25,"s":-1.3},{"p":"f","g":"CM-R⁺","v":0.25,"s":1.0},{"p":"f","g":"CM-R⁺","v":0.0,"s":0.3},
{"p":"g","g":"CM-R⁻","v":4.1,"s":-0.5},{"p":"g","g":"CM-R⁻","v":3.85,"s":0.7},{"p":"g","g":"CM-R⁻","v":3.4,"s":-0.8},{"p":"g","g":"CM-R⁻","v":3.3,"s":1.0},{"p":"g","g":"CM-R⁻","v":3.05,"s":1.3},{"p":"g","g":"CM-R⁻","v":2.75,"s":-2.6},{"p":"g","g":"CM-R⁻","v":2.75,"s":-1.2},{"p":"g","g":"CM-R⁻","v":2.4,"s":-1.6},{"p":"g","g":"CM-R⁻","v":2.4,"s":0.1},{"p":"g","g":"CM-R⁻","v":2.4,"s":1.6},{"p":"g","g":"CM-R⁻","v":2.05,"s":-5.5},{"p":"g","g":"CM-R⁻","v":2.05,"s":-4.3},{"p":"g","g":"CM-R⁻","v":2.05,"s":-3.0},{"p":"g","g":"CM-R⁻","v":2.05,"s":-1.7},{"p":"g","g":"CM-R⁻","v":2.05,"s":-0.4},{"p":"g","g":"CM-R⁻","v":2.05,"s":0.9},{"p":"g","g":"CM-R⁻","v":2.05,"s":2.2},{"p":"g","g":"CM-R⁻","v":2.05,"s":3.5},{"p":"g","g":"CM-R⁻","v":2.05,"s":4.8},{"p":"g","g":"CM-R⁻","v":2.05,"s":5.9},{"p":"g","g":"CM-R⁻","v":1.8,"s":-4.0},{"p":"g","g":"CM-R⁻","v":1.8,"s":-2.5},{"p":"g","g":"CM-R⁻","v":1.8,"s":-1.0},{"p":"g","g":"CM-R⁻","v":1.8,"s":0.5},{"p":"g","g":"CM-R⁻","v":1.8,"s":2.0},{"p":"g","g":"CM-R⁻","v":1.8,"s":3.4},{"p":"g","g":"CM-R⁻","v":1.6,"s":-6.0},{"p":"g","g":"CM-R⁻","v":1.6,"s":-4.6},{"p":"g","g":"CM-R⁻","v":1.6,"s":-3.3},{"p":"g","g":"CM-R⁻","v":1.6,"s":-2.0},{"p":"g","g":"CM-R⁻","v":1.6,"s":-0.7},{"p":"g","g":"CM-R⁻","v":1.6,"s":0.6},{"p":"g","g":"CM-R⁻","v":1.6,"s":1.9},{"p":"g","g":"CM-R⁻","v":1.6,"s":3.2},{"p":"g","g":"CM-R⁻","v":1.6,"s":4.5},{"p":"g","g":"CM-R⁻","v":1.6,"s":5.8},{"p":"g","g":"CM-R⁻","v":1.45,"s":-5.2},{"p":"g","g":"CM-R⁻","v":1.45,"s":-3.8},{"p":"g","g":"CM-R⁻","v":1.45,"s":-2.4},{"p":"g","g":"CM-R⁻","v":1.45,"s":2.6},{"p":"g","g":"CM-R⁻","v":1.45,"s":4.0},{"p":"g","g":"CM-R⁻","v":1.45,"s":5.3},{"p":"g","g":"CM-R⁻","v":1.25,"s":-3.2},{"p":"g","g":"CM-R⁻","v":1.25,"s":-1.8},{"p":"g","g":"CM-R⁻","v":1.25,"s":-0.4},{"p":"g","g":"CM-R⁻","v":1.25,"s":1.0},{"p":"g","g":"CM-R⁻","v":1.25,"s":2.4},{"p":"g","g":"CM-R⁻","v":0.95,"s":-2.4},{"p":"g","g":"CM-R⁻","v":0.95,"s":-1.0},{"p":"g","g":"CM-R⁻","v":0.95,"s":0.4},{"p":"g","g":"CM-R⁻","v":0.95,"s":1.9},{"p":"g","g":"CM-R⁻","v":0.5,"s":-1.7},{"p":"g","g":"CM-R⁻","v":0.5,"s":0.6},{"p":"g","g":"CM-R⁻","v":0.5,"s":2.1},{"p":"g","g":"CM-R⁻","v":0.25,"s":-0.8},{"p":"g","g":"CM-R⁻","v":0.25,"s":0.6},{"p":"g","g":"CM-R⁻","v":-0.45,"s":0},{"p":"g","g":"CM-R⁻","v":-2.35,"s":-0.6},{"p":"g","g":"CM-R⁻","v":-2.35,"s":0.6},
{"p":"g","g":"CM-R⁺","v":2.7,"s":0.6},{"p":"g","g":"CM-R⁺","v":2.45,"s":-2.7},{"p":"g","g":"CM-R⁺","v":2.4,"s":-1.2},{"p":"g","g":"CM-R⁺","v":2.4,"s":2.5},{"p":"g","g":"CM-R⁺","v":2.4,"s":3.8},{"p":"g","g":"CM-R⁺","v":2.15,"s":-0.8},{"p":"g","g":"CM-R⁺","v":2.15,"s":1.4},{"p":"g","g":"CM-R⁺","v":1.8,"s":-0.6},{"p":"g","g":"CM-R⁺","v":1.8,"s":0.6},{"p":"g","g":"CM-R⁺","v":1.6,"s":-2.1},{"p":"g","g":"CM-R⁺","v":1.75,"s":2.0},{"p":"g","g":"CM-R⁺","v":1.3,"s":-1.9},{"p":"g","g":"CM-R⁺","v":1.25,"s":2.0},{"p":"g","g":"CM-R⁺","v":1.0,"s":-0.4},{"p":"g","g":"CM-R⁺","v":0.85,"s":0.9},{"p":"g","g":"CM-R⁺","v":0.55,"s":-2.0},{"p":"g","g":"CM-R⁺","v":0.55,"s":-0.3},{"p":"g","g":"CM-R⁺","v":0.55,"s":1.4},{"p":"g","g":"CM-R⁺","v":0.35,"s":-0.9},{"p":"g","g":"CM-R⁺","v":0.3,"s":0.8},{"p":"g","g":"CM-R⁺","v":-0.15,"s":-0.5},{"p":"g","g":"CM-R⁺","v":-0.15,"s":0.5}
 ],
 "med": [
{"p":"a","g":"CM-R⁻","v":4.39},{"p":"a","g":"CM-R⁺","v":4.24},{"p":"b","g":"CM-R⁻","v":-1.14},{"p":"b","g":"CM-R⁺","v":-1.64},{"p":"c","g":"CM-R⁻","v":2.08},{"p":"c","g":"CM-R⁺","v":1.12},{"p":"d","g":"CM-R⁻","v":2.16},{"p":"d","g":"CM-R⁺","v":0.9},{"p":"e","g":"CM-R⁻","v":1.4},{"p":"e","g":"CM-R⁺","v":0.0},{"p":"f","g":"CM-R⁻","v":2.2},{"p":"f","g":"CM-R⁺","v":1.7},{"p":"g","g":"CM-R⁻","v":1.56},{"p":"g","g":"CM-R⁺","v":1.77}
 ],
 "brk": [
{"p":"a","g":"CM-R⁻","v":7.56},{"p":"a","g":"CM-R⁺","v":7.56},{"p":"b","g":"CM-R⁻","v":4.15},{"p":"b","g":"CM-R⁺","v":4.15},{"p":"c","g":"CM-R⁻","v":6.28},{"p":"c","g":"CM-R⁺","v":6.28},{"p":"d","g":"CM-R⁻","v":4.97},{"p":"d","g":"CM-R⁺","v":4.97},{"p":"e","g":"CM-R⁻","v":6.33},{"p":"e","g":"CM-R⁺","v":6.33},{"p":"f","g":"CM-R⁻","v":5.28},{"p":"f","g":"CM-R⁺","v":5.28},{"p":"g","g":"CM-R⁻","v":4.58},{"p":"g","g":"CM-R⁺","v":4.58}
 ],
 "lbl": [
{"p":"a","g":"CM-R⁻","v":7.56,"t":"0.5"},{"p":"b","g":"CM-R⁻","v":4.15,"t":"0.9"},{"p":"c","g":"CM-R⁻","v":6.28,"t":"0.05"},{"p":"d","g":"CM-R⁻","v":4.97,"t":"0.002"},{"p":"e","g":"CM-R⁻","v":6.33,"t":"0.0001"},{"p":"f","g":"CM-R⁻","v":5.28,"t":"0.009"},{"p":"g","g":"CM-R⁻","v":4.58,"t":"0.7"}
 ]
},
"vconcat": [
 {"vconcat": [
  {"hconcat": [
   {"width": 1, "height": 1, "data": {"values": []}, "mark": "point"},
   {"hconcat": [
   {"width": 176, "height": 184,
    "title": {"text": "a) groupA_median", "anchor": "end", "frame": "group", "dx": -57, "offset": 1},
    "encoding": {
     "x": {"field": "g", "type": "nominal", "sort": ["CM-R⁻","CM-R⁺"], "title": null, "scale": {"domain": ["CM-R⁻","CM-R⁺"], "paddingInner": 0.239, "paddingOuter": 0.076, "align": 0.07}},
     "y": {"field": "v", "type": "quantitative", "scale": {"domain": [-4, 8], "nice": false, "zero": false}, "axis": {"values": [-4, 0, 4, 8], "title": "Log(transcript quantity)", "titlePadding": 14}}},
    "layer": [
     {"data": {"name": "pts"}, "transform": [{"filter": "datum.p == 'a'"}], "mark": {"type": "point", "shape": "triangle-up", "filled": true, "size": 20, "color": "black", "opacity": 1}, "encoding": {"xOffset": {"field": "s", "type": "quantitative", "scale": {"domain": [-7, 7], "range": [0, 70]}}}},
     {"data": {"name": "med"}, "transform": [{"filter": "datum.p == 'a'"}], "mark": {"type": "tick", "color": "#e8191c", "size": 62, "thickness": 1.5}},
     {"data": {"name": "brk"}, "transform": [{"filter": "datum.p == 'a'"}], "mark": {"type": "line", "color": "#555555", "strokeWidth": 1.2}},
     {"data": {"name": "brk"}, "transform": [{"filter": "datum.p == 'a'"}], "mark": {"type": "point", "shape": "M0,-1L0,1", "size": 30, "filled": false, "color": "#555555", "strokeWidth": 1.2, "opacity": 1}},
     {"data": {"name": "lbl"}, "transform": [{"filter": "datum.p == 'a'"}], "mark": {"type": "text", "fontSize": 16, "baseline": "alphabetic", "dy": 1, "color": "black"}, "encoding": {"x": {"field": "g", "type": "nominal", "sort": ["CM-R⁻","CM-R⁺"], "bandPosition": 1.157, "title": null}, "text": {"field": "t"}}}
    ]},
   {"hconcat": [
    {"width": 184, "height": 184,
     "title": {"text": "b) DC13", "anchor": "end", "frame": "group", "dx": -127, "dy": -2, "offset": 1},
     "encoding": {
      "x": {"field": "g", "type": "nominal", "sort": ["CM-R⁻","CM-R⁺"], "title": null, "scale": {"domain": ["CM-R⁻","CM-R⁺"], "paddingInner": 0.213, "paddingOuter": 0.14, "align": 0.44}},
      "y": {"field": "v", "type": "quantitative", "scale": {"domain": [-4, 8], "nice": false, "zero": false}, "axis": {"values": [-4, 0, 4, 8], "title": null}}},
     "layer": [
      {"data": {"name": "pts"}, "transform": [{"filter": "datum.p == 'b'"}], "mark": {"type": "point", "shape": "triangle-up", "filled": true, "size": 20, "color": "black", "opacity": 1}, "encoding": {"xOffset": {"field": "s", "type": "quantitative", "scale": {"domain": [-7, 7], "range": [0, 70]}}}},
      {"data": {"name": "med"}, "transform": [{"filter": "datum.p == 'b'"}], "mark": {"type": "tick", "color": "#e8191c", "size": 62, "thickness": 1.5}},
      {"data": {"name": "brk"}, "transform": [{"filter": "datum.p == 'b'"}], "mark": {"type": "line", "color": "#555555", "strokeWidth": 1.2}},
      {"data": {"name": "brk"}, "transform": [{"filter": "datum.p == 'b'"}], "mark": {"type": "point", "shape": "M0,-1L0,1", "size": 30, "filled": false, "color": "#555555", "strokeWidth": 1.2, "opacity": 1}},
      {"data": {"name": "lbl"}, "transform": [{"filter": "datum.p == 'b'"}], "mark": {"type": "text", "fontSize": 16, "baseline": "alphabetic", "dy": 1, "color": "black"}, "encoding": {"x": {"field": "g", "type": "nominal", "sort": ["CM-R⁻","CM-R⁺"], "bandPosition": 1.136, "title": null}, "text": {"field": "t"}}}
     ]},
    {"width": 179, "height": 184,
     "title": {"text": "c) DC8_median", "anchor": "end", "frame": "group", "dx": -62, "dy": -1, "offset": 1},
     "encoding": {
      "x": {"field": "g", "type": "nominal", "sort": ["CM-R⁻","CM-R⁺"], "title": null, "scale": {"domain": ["CM-R⁻","CM-R⁺"], "paddingInner": 0.176, "paddingOuter": 0.141, "align": 0.46}},
      "y": {"field": "v", "type": "quantitative", "scale": {"domain": [-4, 8.475], "nice": false, "zero": false}, "axis": {"values": [-4, 0, 4, 8], "title": null}}},
     "layer": [
      {"data": {"name": "pts"}, "transform": [{"filter": "datum.p == 'c'"}], "mark": {"type": "point", "shape": "triangle-up", "filled": true, "size": 20, "color": "black", "opacity": 1}, "encoding": {"xOffset": {"field": "s", "type": "quantitative", "scale": {"domain": [-7, 7], "range": [0, 70]}}}},
      {"data": {"name": "med"}, "transform": [{"filter": "datum.p == 'c'"}], "mark": {"type": "tick", "color": "#e8191c", "size": 58, "thickness": 1.5}},
      {"data": {"name": "brk"}, "transform": [{"filter": "datum.p == 'c'"}], "mark": {"type": "line", "color": "#555555", "strokeWidth": 1.2}},
      {"data": {"name": "brk"}, "transform": [{"filter": "datum.p == 'c'"}], "mark": {"type": "point", "shape": "M0,-1L0,1", "size": 30, "filled": false, "color": "#555555", "strokeWidth": 1.2, "opacity": 1}},
      {"data": {"name": "lbl"}, "transform": [{"filter": "datum.p == 'c'"}], "mark": {"type": "text", "fontSize": 16, "baseline": "alphabetic", "dy": 1, "color": "black"}, "encoding": {"x": {"field": "g", "type": "nominal", "sort": ["CM-R⁻","CM-R⁺"], "bandPosition": 1.107, "title": null}, "text": {"field": "t"}}}
     ]}
   ], "spacing": 20}
  ], "spacing": 30}
  ], "spacing": 3},
  {"hconcat": [
   {"width": 1, "height": 1, "data": {"values": []}, "mark": "point"},
   {"hconcat": [
   {"width": 187, "height": 185,
    "title": {"text": "d) Group B", "anchor": "end", "frame": "group", "dx": -115, "offset": 4},
    "encoding": {
     "x": {"field": "g", "type": "nominal", "sort": ["CM-R⁻","CM-R⁺"], "title": null, "scale": {"domain": ["CM-R⁻","CM-R⁺"], "paddingInner": 0.213, "paddingOuter": 0.157, "align": 0.46}},
     "y": {"field": "v", "type": "quantitative", "scale": {"domain": [-4, 8], "nice": false, "zero": false}, "axis": {"values": [-4, 0, 4, 8], "title": "Log(transcript quantity)", "titlePadding": 6}}},
    "layer": [
     {"data": {"name": "pts"}, "transform": [{"filter": "datum.p == 'd'"}], "mark": {"type": "point", "shape": "triangle-up", "filled": true, "size": 20, "color": "black", "opacity": 1}, "encoding": {"xOffset": {"field": "s", "type": "quantitative", "scale": {"domain": [-7, 7], "range": [0, 70]}}}},
     {"data": {"name": "med"}, "transform": [{"filter": "datum.p == 'd'"}], "mark": {"type": "tick", "color": "#e8191c", "size": 60, "thickness": 1.5}},
     {"data": {"name": "brk"}, "transform": [{"filter": "datum.p == 'd'"}], "mark": {"type": "line", "color": "#555555", "strokeWidth": 1.2}},
     {"data": {"name": "brk"}, "transform": [{"filter": "datum.p == 'd'"}], "mark": {"type": "point", "shape": "M0,-1L0,1", "size": 30, "filled": false, "color": "#555555", "strokeWidth": 1.2, "opacity": 1}},
     {"data": {"name": "lbl"}, "transform": [{"filter": "datum.p == 'd'"}], "mark": {"type": "text", "fontSize": 16, "baseline": "alphabetic", "dy": 1, "color": "black"}, "encoding": {"x": {"field": "g", "type": "nominal", "sort": ["CM-R⁻","CM-R⁺"], "bandPosition": 1.136, "title": null}, "text": {"field": "t"}}}
    ]},
   {"width": 187, "height": 185,
    "title": {"text": "e) Group C", "anchor": "end", "frame": "group", "dx": -113, "offset": 4},
    "encoding": {
     "x": {"field": "g", "type": "nominal", "sort": ["CM-R⁻","CM-R⁺"], "title": null, "scale": {"domain": ["CM-R⁻","CM-R⁺"], "paddingInner": 0.222, "paddingOuter": 0.15, "align": 0.44}},
     "y": {"field": "v", "type": "quantitative", "scale": {"domain": [-4, 8], "nice": false, "zero": false}, "axis": {"values": [-4, 0, 4, 8], "title": null}}},
    "layer": [
     {"data": {"name": "pts"}, "transform": [{"filter": "datum.p == 'e'"}], "mark": {"type": "point", "shape": "triangle-up", "filled": true, "size": 20, "color": "black", "opacity": 1}, "encoding": {"xOffset": {"field": "s", "type": "quantitative", "scale": {"domain": [-7, 7], "range": [0, 70]}}}},
     {"data": {"name": "med"}, "transform": [{"filter": "datum.p == 'e'"}], "mark": {"type": "tick", "color": "#e8191c", "size": 64, "thickness": 1.5}},
     {"data": {"name": "brk"}, "transform": [{"filter": "datum.p == 'e'"}], "mark": {"type": "line", "color": "#555555", "strokeWidth": 1.2}},
     {"data": {"name": "brk"}, "transform": [{"filter": "datum.p == 'e'"}], "mark": {"type": "point", "shape": "M0,-1L0,1", "size": 30, "filled": false, "color": "#555555", "strokeWidth": 1.2, "opacity": 1}},
     {"data": {"name": "lbl"}, "transform": [{"filter": "datum.p == 'e'"}], "mark": {"type": "text", "fontSize": 16, "baseline": "alphabetic", "dy": 1, "color": "black"}, "encoding": {"x": {"field": "g", "type": "nominal", "sort": ["CM-R⁻","CM-R⁺"], "bandPosition": 1.143, "title": null}, "text": {"field": "t"}}}
    ]}
   ], "spacing": 29}
  ], "spacing": 0}
 ], "spacing": 17},
 {"hconcat": [
  {"width": 1, "height": 1, "data": {"values": []}, "mark": "point"},
  {"hconcat": [
  {"width": 187, "height": 186,
   "title": {"text": "f) PfSIR2A", "anchor": "end", "frame": "group", "dx": -108, "offset": 0},
   "encoding": {
    "x": {"field": "g", "type": "nominal", "sort": ["CM-R⁻","CM-R⁺"], "title": null, "scale": {"domain": ["CM-R⁻","CM-R⁺"], "paddingInner": 0.213, "paddingOuter": 0.157, "align": 0.46}},
    "y": {"field": "v", "type": "quantitative", "scale": {"domain": [-4, 8], "nice": false, "zero": false}, "axis": {"values": [-4, 0, 4, 8], "title": "Log(transcript quantity)", "titlePadding": 6}}},
   "layer": [
    {"data": {"name": "pts"}, "transform": [{"filter": "datum.p == 'f'"}], "mark": {"type": "point", "shape": "triangle-up", "filled": true, "size": 20, "color": "black", "opacity": 1}, "encoding": {"xOffset": {"field": "s", "type": "quantitative", "scale": {"domain": [-7, 7], "range": [0, 70]}}}},
    {"data": {"name": "med"}, "transform": [{"filter": "datum.p == 'f'"}], "mark": {"type": "tick", "color": "#e8191c", "size": 62, "thickness": 1.5}},
    {"data": {"name": "brk"}, "transform": [{"filter": "datum.p == 'f'"}], "mark": {"type": "line", "color": "#555555", "strokeWidth": 1.2}},
    {"data": {"name": "brk"}, "transform": [{"filter": "datum.p == 'f'"}], "mark": {"type": "point", "shape": "M0,-1L0,1", "size": 30, "filled": false, "color": "#555555", "strokeWidth": 1.2, "opacity": 1}},
    {"data": {"name": "lbl"}, "transform": [{"filter": "datum.p == 'f'"}], "mark": {"type": "text", "fontSize": 16, "baseline": "alphabetic", "dy": 1, "color": "black"}, "encoding": {"x": {"field": "g", "type": "nominal", "sort": ["CM-R⁻","CM-R⁺"], "bandPosition": 1.136, "title": null}, "text": {"field": "t"}}}
   ]},
  {"width": 185, "height": 186,
   "title": {"text": "g) PfSIR2B", "anchor": "end", "frame": "group", "dx": -100, "dy": -3, "offset": 0},
   "encoding": {
    "x": {"field": "g", "type": "nominal", "sort": ["CM-R⁻","CM-R⁺"], "title": null, "scale": {"domain": ["CM-R⁻","CM-R⁺"], "paddingInner": 0.213, "paddingOuter": 0.146, "align": 0.5}},
    "y": {"field": "v", "type": "quantitative", "scale": {"domain": [-4, 8], "nice": false, "zero": false}, "axis": {"values": [-4, 0, 4, 8], "title": null}}},
   "layer": [
    {"data": {"name": "pts"}, "transform": [{"filter": "datum.p == 'g'"}], "mark": {"type": "point", "shape": "triangle-up", "filled": true, "size": 20, "color": "black", "opacity": 1}, "encoding": {"xOffset": {"field": "s", "type": "quantitative", "scale": {"domain": [-7, 7], "range": [0, 70]}}}},
    {"data": {"name": "med"}, "transform": [{"filter": "datum.p == 'g'"}], "mark": {"type": "tick", "color": "#e8191c", "size": 62, "thickness": 1.5}},
    {"data": {"name": "brk"}, "transform": [{"filter": "datum.p == 'g'"}], "mark": {"type": "line", "color": "#555555", "strokeWidth": 1.2}},
    {"data": {"name": "brk"}, "transform": [{"filter": "datum.p == 'g'"}], "mark": {"type": "point", "shape": "M0,-1L0,1", "size": 30, "filled": false, "color": "#555555", "strokeWidth": 1.2, "opacity": 1}},
    {"data": {"name": "lbl"}, "transform": [{"filter": "datum.p == 'g'"}], "mark": {"type": "text", "fontSize": 16, "baseline": "alphabetic", "dy": 1, "color": "black"}, "encoding": {"x": {"field": "g", "type": "nominal", "sort": ["CM-R⁻","CM-R⁺"], "bandPosition": 1.136, "title": null}, "text": {"field": "t"}}}
   ]}
  ], "spacing": 33}
 ], "spacing": 0}
],
"spacing": 20
}
